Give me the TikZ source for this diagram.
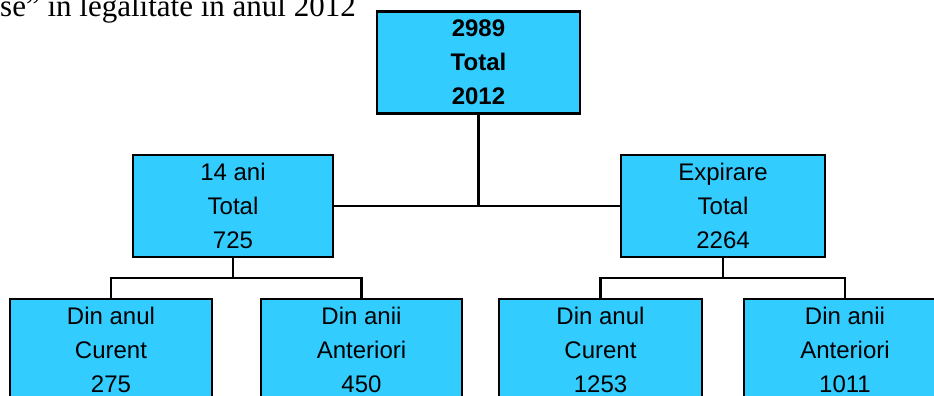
\documentclass[tikz,border=0pt]{standalone}
\usepackage{fontspec}
\setmainfont{Liberation Serif}
\setsansfont{Liberation Sans}
\definecolor{boxblue}{HTML}{33CCFF}

\begin{document}
\begin{tikzpicture}[x=1pt, y=-1pt,
    box/.style={draw, line width=2.2pt, fill=boxblue, minimum height=102pt, inner sep=0pt, align=center, font=\sffamily\fontsize{24}{34}\selectfont},
    wire/.style={line width=2.2pt}]
    \useasboundingbox (0,0) rectangle (934,396);
    \clip (0,0) rectangle (934,396);

    % Heading (cut at the top)
    \node[anchor=base west, inner sep=0pt, font=\fontsize{31}{36}\selectfont] (head) at (0,17) {se" în legalitate în anul 2012};

    % Boxes
    \node[box, minimum width=203pt, font=\sffamily\bfseries\fontsize{24}{34}\selectfont] (total) at (478.5,62.5) {2989\\Total\\2012};
    \node[box, minimum width=200pt] (ani) at (233,206) {14 ani\\Total\\725};
    \node[box, minimum width=204pt] (exp) at (723,206) {Expirare\\Total\\2264};
    \node[box, minimum width=202pt] (aniCur) at (111,350) {Din anul\\Curent\\275};
    \node[box, minimum width=201pt] (aniAnt) at (361.5,350) {Din anii\\Anteriori\\450};
    \node[box, minimum width=203pt] (expCur) at (600.5,350) {Din anul\\Curent\\1253};
    \node[box, minimum width=202pt] (expAnt) at (845,350) {Din anii\\Anteriori\\1011};

    % Connectors
    \draw[wire] (total.south) -- (total.south |- ani.east);
    \draw[wire] (ani.east) -- (exp.west);
    \draw[wire] (ani.south) -- ++(0,20) -| (aniCur.north);
    \draw[wire] (ani.south) -- ++(0,20) -| (aniAnt.north);
    \draw[wire] (exp.south) -- ++(0,20) -| (expCur.north);
    \draw[wire] (exp.south) -- ++(0,20) -| (expAnt.north);
\end{tikzpicture}
\end{document}
